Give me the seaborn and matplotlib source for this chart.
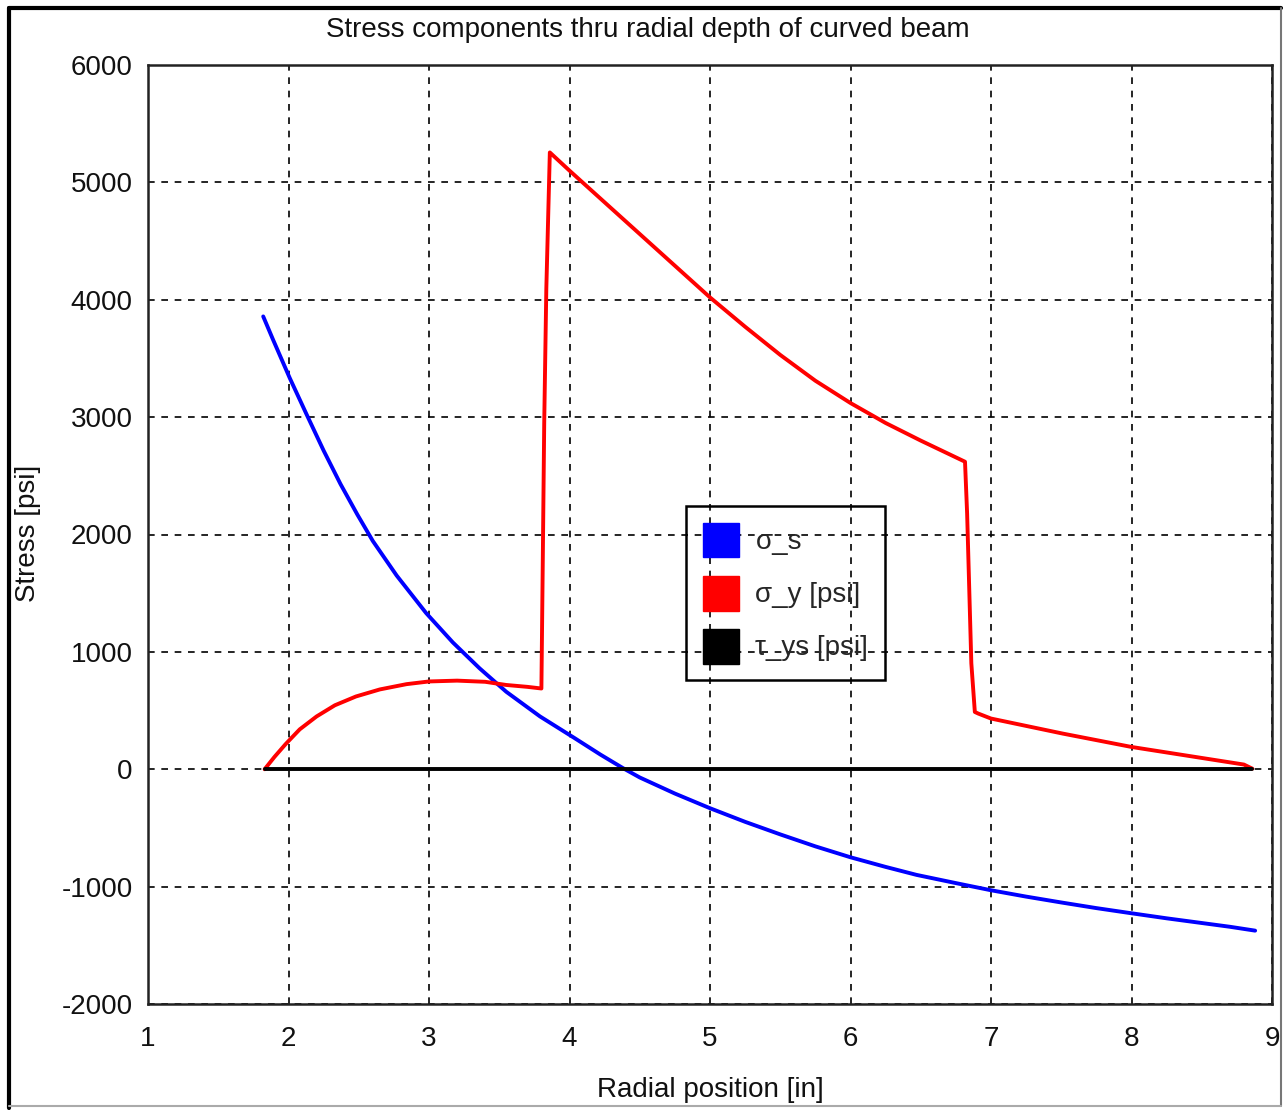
import matplotlib
matplotlib.use("Agg")
import matplotlib.pyplot as plt
import seaborn as sns
import pandas as pd
from matplotlib.patches import Patch
from matplotlib.lines import Line2D

# ---- data ----
sigma_s_x = [1.82, 1.89, 2.01, 2.13, 2.25, 2.37, 2.49, 2.60, 2.77, 2.98, 3.17, 3.36, 3.55,
             3.79, 4.03, 4.22, 4.38, 4.50, 4.75, 5.00, 5.25, 5.50, 5.75, 6.00, 6.25, 6.47,
             6.75, 7.00, 7.25, 7.50, 7.75, 8.00, 8.25, 8.50, 8.70, 8.88]
sigma_s_y = [3858, 3660, 3330, 3020, 2715, 2430, 2170, 1945, 1650, 1330, 1080, 860, 660,
             450, 270, 125, 10, -70, -207, -332, -448, -555, -657, -750, -832, -900,
             -970, -1031, -1085, -1135, -1183, -1227, -1270, -1310, -1342, -1375]

sigma_y_x = [1.83, 1.90, 1.98, 2.08, 2.20, 2.33, 2.48, 2.65, 2.84, 3.00, 3.20, 3.40, 3.55,
             3.70, 3.80, 3.81, 3.82, 3.835, 3.86, 4.00, 4.25, 4.50, 4.75, 5.00, 5.25, 5.50,
             5.75, 6.00, 6.25, 6.50, 6.815, 6.83, 6.84, 6.85, 6.86, 6.885, 6.91, 7.00, 7.51,
             8.00, 8.80, 8.86]
sigma_y_y = [0, 105, 215, 340, 450, 545, 620, 680, 725, 748, 755, 745, 718,
             702, 688, 1795, 2944, 4094, 5255, 5100, 4830, 4560, 4290, 4020, 3770, 3530,
             3310, 3120, 2950, 2800, 2620, 2180, 1755, 1329, 903, 488, 474, 432, 304,
             190, 40, 5]

tau_x = [1.83, 8.86]
tau_y = [0, 0]

series_names = ["σ_s", "σ_y [psi]", "τ_ys [psi]"]
series_colors = ["#0000ff", "#ff0000", "#000000"]

x_ticks = [1, 2, 3, 4, 5, 6, 7, 8, 9]
y_ticks = [-2000, -1000, 0, 1000, 2000, 3000, 4000, 5000, 6000]

title_text = "Stress components thru radial depth of curved beam"
x_label = "Radial position [in]"
y_label = "Stress [psi]"

# ---- build long-form table ----
frames = []
for name, xs, ys in zip(series_names, [sigma_s_x, sigma_y_x, tau_x], [sigma_s_y, sigma_y_y, tau_y]):
    frames.append(pd.DataFrame({"x": xs, "y": ys, "series": name}))
df = pd.concat(frames, ignore_index=True)

sns.set_theme(style="white")
plt.rcParams["font.family"] = ["Liberation Sans", "DejaVu Sans"]

W, H = 1285, 1110
fig = plt.figure(figsize=(W / 100, H / 100), dpi=100)
fig.patch.set_facecolor("white")
ax = fig.add_axes([148 / W, 1 - 1004 / H, (1272 - 148) / W, (1004 - 65) / H])

sns.lineplot(data=df, x="x", y="y", hue="series", palette=dict(zip(series_names, series_colors)),
             estimator=None, sort=False, linewidth=2.8, legend=False, ax=ax)

ax.set_xlim(1, 9)
ax.set_ylim(-2000, 6000)
ax.set_xticks(x_ticks)
ax.set_yticks(y_ticks)
ax.set_xticklabels([str(v) for v in x_ticks])
ax.set_yticklabels([str(v) for v in y_ticks])
ax.tick_params(axis="both", length=0, labelsize=20, colors="#111111")
ax.tick_params(axis="y", pad=11)
ax.tick_params(axis="x", pad=16)
ax.grid(True, color="black", linestyle=(0, (4, 4)), linewidth=1.2)
ax.set_axisbelow(True)
for sp in ax.spines.values():
    sp.set_color("#222222")
    sp.set_linewidth(1.8)
ax.set_xlabel("")
ax.set_ylabel("")

fig.text(648 / W, 1 - 30 / H, title_text, ha="center", va="center", fontsize=20, color="#111111")
fig.text(710 / W, 1 - 1090 / H, x_label, ha="center", va="center", fontsize=20, color="#111111")
fig.text(28 / W, 1 - 533 / H, y_label, ha="center", va="center", rotation=90, fontsize=20, color="#111111")

handles = [Patch(facecolor=c, edgecolor=c) for c in series_colors]
leg = ax.legend(handles, series_names, loc="upper left",
                bbox_to_anchor=(686 / W, 1 - 506 / H), bbox_transform=fig.transFigure,
                fontsize=20, handlelength=1.3, handleheight=1.55, handletextpad=0.6,
                labelspacing=0.66, borderpad=0.6, borderaxespad=0, fancybox=False,
                framealpha=1, edgecolor="black")
leg.get_frame().set_linewidth(1.8)
leg.get_frame().set_facecolor("none")
leg.get_frame().set_edgecolor("black")

# outer window border
fig.add_artist(Line2D([9 / W, 1281 / W], [1 - 8 / H, 1 - 8 / H], color="black", lw=3))
fig.add_artist(Line2D([9 / W, 9 / W], [1 - 8 / H, 1 - 1108 / H], color="black", lw=3))
fig.add_artist(Line2D([1281 / W, 1281 / W], [1 - 8 / H, 1 - 1106 / H], color="#777777", lw=1.5))
fig.add_artist(Line2D([9 / W, 1281 / W], [1 - 1106 / H, 1 - 1106 / H], color="#aaaaaa", lw=1.5))

fig.savefig("out.png", dpi=100, facecolor="white")
